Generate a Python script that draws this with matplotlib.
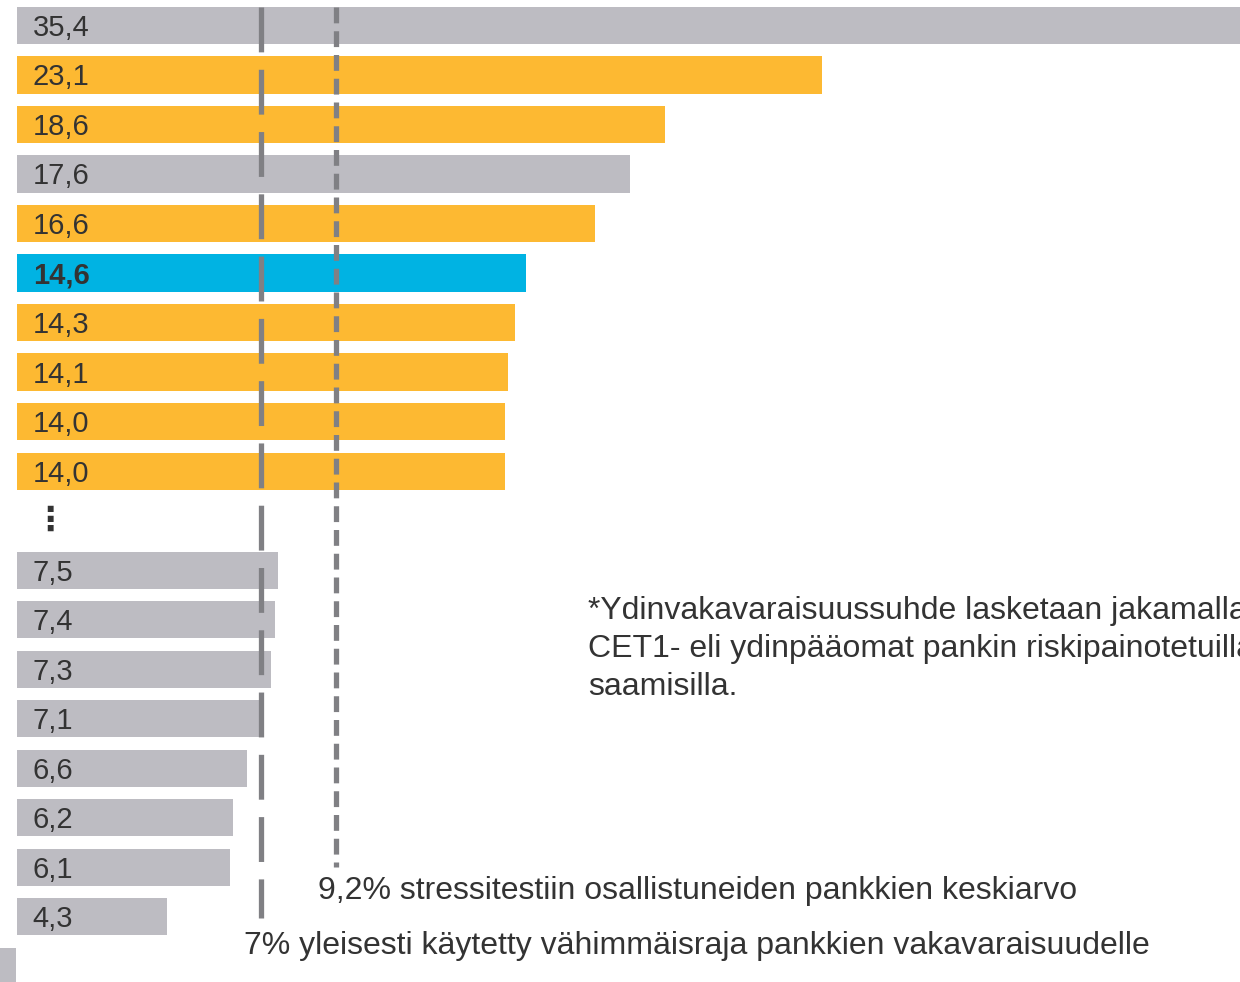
import numpy as np
import matplotlib
matplotlib.use("Agg")
import matplotlib.pyplot as plt

plt.rcParams['font.family'] = ['Liberation Sans', 'DejaVu Sans']

# CET1-ydinvakavaraisuussuhteet (%), ylhäältä alas
values = [35.4, 23.1, 18.6, 17.6, 16.6, 14.6, 14.3, 14.1, 14.0, 14.0,
          7.5, 7.4, 7.3, 7.1, 6.6, 6.2, 6.1, 4.3]
labels = ["35,4", "23,1", "18,6", "17,6", "16,6", "14,6", "14,3", "14,1", "14,0", "14,0",
          "7,5", "7,4", "7,3", "7,1", "6,6", "6,2", "6,1", "4,3"]
groups = ["g", "o", "o", "g", "o", "b", "o", "o", "o", "o",
          "g", "g", "g", "g", "g", "g", "g", "g"]
min_level = 7.0
avg_level = 9.2

colors = {"g": "#bdbcc2", "o": "#fdb932", "b": "#00b3e3"}
txt = "#333333"

# rivit: 10 palkkia, välirivi (pisteet), 8 palkkia
rows = list(range(10)) + list(range(11, 19))

fig = plt.figure(figsize=(12.4, 9.82), dpi=100)
ax = fig.add_axes([0, 0, 1, 1])

ax.barh(rows, values, height=0.75, left=0,
        color=[colors[g] for g in groups], zorder=1)
# leikkautunut palkki kuvan alareunassa
ax.barh([19], [0.47], left=-0.5, height=0.75, color=colors["g"], zorder=1)

for r, lab, g in zip(rows, labels, groups):
    ax.text(0.45, r + 0.05, lab, ha="left", va="center", fontsize=21, color=txt,
            fontweight="bold" if g == "b" else "normal", zorder=3)

ax.text(0.95, 10.0, "⋮", ha="center", va="center", fontsize=24,
        fontweight="bold", color=txt, family="DejaVu Sans")

ax.plot([min_level, min_level], [-0.37, 18.03], color="#808084", lw=3.8,
        dashes=(8.5, 3.3), solid_capstyle="butt", dash_capstyle="butt", zorder=2)
ax.plot([avg_level - 0.04, avg_level - 0.04], [-0.37, 17.0], color="#808084", lw=3.8,
        dashes=(3.0, 1.5), solid_capstyle="butt", dash_capstyle="butt", zorder=2)

ax.text(8.64, 17.49, "9,2% stressitestiin osallistuneiden pankkien keskiarvo",
        ha="left", va="center", fontsize=23, color=txt)
ax.text(6.52, 18.6, "7% yleisesti käytetty vähimmäisraja pankkien vakavaraisuudelle",
        ha="left", va="center", fontsize=23, color=txt)
ax.text(16.39, 12.6,
        "*Ydinvakavaraisuussuhde lasketaan jakamalla\n"
        "CET1- eli ydinpääomat pankin riskipainotetuilla\n"
        "saamisilla.",
        ha="left", va="center", fontsize=23, color=txt, linespacing=1.34)

ax.set_xlim(-0.488, 35.1)
ax.set_ylim(19.32, -0.515)
ax.axis("off")

fig.savefig("out.png", dpi=100)
